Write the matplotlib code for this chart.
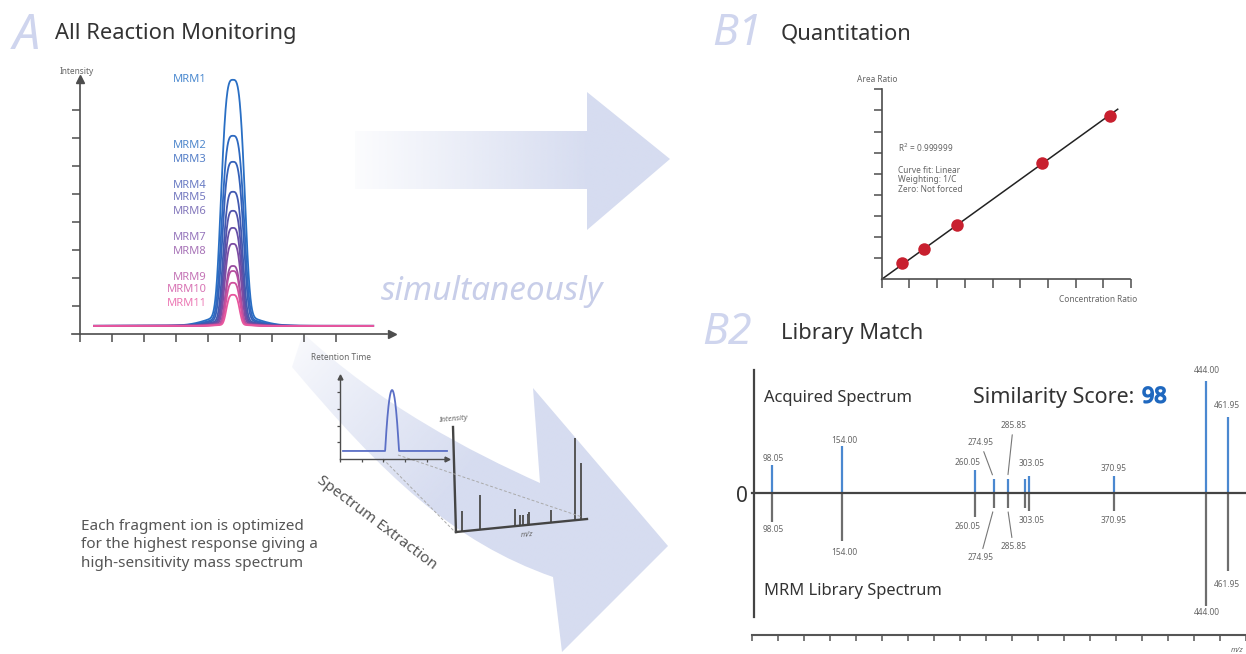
import numpy as np
import matplotlib
matplotlib.use('Agg')
import matplotlib.pyplot as plt
import matplotlib.patheffects as pe
from matplotlib.patches import PathPatch
from matplotlib.path import Path
from matplotlib.transforms import Affine2D

plt.rcParams['font.family'] = ['Noto Sans', 'DejaVu Sans']

# ---- data ----
# A: overlaid MRM chromatograms (intensity above baseline, peak width at half height)
mrm_names = ['MRM1', 'MRM2', 'MRM3', 'MRM4', 'MRM5', 'MRM6',
             'MRM7', 'MRM8', 'MRM9', 'MRM10', 'MRM11']
mrm_heights = [8.79, 6.79, 5.86, 4.79, 4.11, 3.50, 2.93, 2.14, 1.96, 1.54, 1.11]
mrm_fwhm = [0.75, 0.72, 0.68, 0.62, 0.58, 0.55, 0.52, 0.48, 0.47, 0.45, 0.42]
mrm_colors = ['#2a6fc4', '#2e69c0', '#3461b9', '#4159b0', '#5153aa', '#664fa6',
              '#7c4ca3', '#984c9f', '#b54e9e', '#d0519d', '#e8569e']
mrm_label_colors = ['#4c8ad0', '#5088cc', '#5680c8', '#6a7cc4', '#7479c0', '#8478bc',
                    '#9676bc', '#a874b8', '#c474b6', '#d874b4', '#ec78b4']
peak_rt = 4.78
baseline = 0.29
rt_range = (0.44, 9.16)

# extracted chromatogram (small inset)
xic_peak_rt = 2.40
xic_half_width = 0.32
xic_height = 3.65
xic_baseline = 0.48
xic_range = (0.14, 4.93)

# B1: calibration curve
conc_ratio = [0.72, 1.51, 2.71, 5.80, 8.25]
area_ratio = [0.76, 1.42, 2.58, 5.50, 7.76]
fit_x = [0, 8.52]
fit_y = [0, 8.06]

# B2: acquired vs library spectrum
mz = [98.05, 154.00, 260.05, 274.95, 285.85, 300.05, 303.05, 370.95, 444.00, 461.95]
mz_labels = ['98.05', '154.00', '260.05', '274.95', '285.85', '', '303.05',
             '370.95', '444.00', '461.95']
acquired = [25, 42, 21, 13, 13, 13, 15.5, 15.5, 100, 68.5]
library = [25.5, 43, 21, 13, 13, 13, 15.5, 15.5, 100.5, 69]

# ---- figure in pixel space ----
W, H = 1246, 654
fig = plt.figure(figsize=(W / 100, H / 100), dpi=100)
bg = fig.add_axes([0, 0, 1, 1])
bg.set_xlim(0, W)
bg.set_ylim(H, 0)
bg.axis('off')

AX = '#4d4d4d'
LAV = '#d6dcf0'
px = lambda v: v * 0.72  # pixels -> points


def place(x0, y0, x1, y1):
    a = fig.add_axes([x0 / W, 1 - y1 / H, (x1 - x0) / W, (y1 - y0) / H])
    a.patch.set_alpha(0)
    return a


def gradient_fill(path, extent, alpha):
    r, g, b = matplotlib.colors.to_rgb(LAV)
    img = np.zeros(alpha.shape + (4,))
    img[..., 0], img[..., 1], img[..., 2] = r, g, b
    img[..., 3] = alpha
    im = bg.imshow(img, extent=extent, aspect='auto', interpolation='bilinear', zorder=0)
    patch = PathPatch(path, transform=bg.transData, facecolor='none', edgecolor='none')
    bg.add_patch(patch)
    im.set_clip_path(patch)


# straight arrow (A -> B1)
xs = np.linspace(350, 675, 300)
al = 0.08 + 0.92 * np.clip((xs - 355) / (590 - 355), 0, 1)
arrow1 = Path([(355, 131), (587, 131), (587, 92), (670, 159), (587, 230),
               (587, 189), (355, 189), (355, 131)])
gradient_fill(arrow1, (350, 675, 235, 85), np.tile(al, (2, 1)))

# curved arrow (A -> B2)
verts = [(303, 333), (380, 405), (470, 451.5), (540, 483),
         (533, 388), (668, 546), (562, 652), (553, 577),
         (453, 542), (383, 475), (292, 367), (303, 333)]
codes = [Path.MOVETO, Path.CURVE4, Path.CURVE4, Path.CURVE4,
         Path.LINETO, Path.LINETO, Path.LINETO, Path.LINETO,
         Path.CURVE4, Path.CURVE4, Path.CURVE4, Path.CLOSEPOLY]
arrow2 = Path(verts, codes)
gx, gy = np.meshgrid(np.linspace(285, 675, 300), np.linspace(325, 655, 300))
s = (gx - 292) * 0.75 + (gy - 340) * 0.66
gradient_fill(arrow2, (285, 675, 655, 325), 0.12 + 0.88 * np.clip(s / 220, 0, 1) ** 0.8)

# ---- panel titles ----
big = dict(fontsize=31, style='italic', color='#cfd5ee', va='center', ha='left')
ttl = dict(fontsize=15.8, color='#333333', va='center', ha='left')
bg.text(13, 36, 'A', **dict(big, fontsize=35))
bg.text(55, 33, 'All Reaction Monitoring', **ttl)
bg.text(712, 34, 'B1', **big)
bg.text(781, 34, 'Quantitation', **ttl)
bg.text(702, 333, 'B2', **big)
bg.text(781, 333, 'Library Match', **ttl)

small = dict(fontsize=6, color='#666666', ha='center', va='center')

# ---- A: MRM chromatograms ----
ax = place(60, 70, 400, 345)
ax.set_xlim(-0.625, 10)
ax.set_ylim(-0.393, 9.43)
rt = np.linspace(rt_range[0], rt_range[1], 1200)
for h, w, c in zip(mrm_heights, mrm_fwhm, mrm_colors):
    d = np.abs(rt - peak_rt)
    core = np.exp(-np.log(2) * (2 * d / w) ** 3.4)
    tail = np.exp(-0.5 * (d / (0.9 * w)) ** 2)
    ax.plot(rt, baseline + h * (0.95 * core + 0.05 * tail), color=c, lw=1.3)
for sp in ['top', 'right']:
    ax.spines[sp].set_visible(False)
ax.spines['left'].set_position(('data', 0))
ax.spines['bottom'].set_position(('data', 0))
ax.spines['left'].set_bounds(0, 9.0)
ax.spines['bottom'].set_bounds(-0.25, 9.6)
for sp in ['left', 'bottom']:
    ax.spines[sp].set_color(AX)
    ax.spines[sp].set_linewidth(1.2)
ax.set_xticks(range(0, 9))
ax.set_yticks(range(1, 9))
ax.tick_params(direction='out', length=px(8), width=1.1, color=AX,
               labelleft=False, labelbottom=False)
ax.plot(0, 9.12, marker='^', ms=6, color=AX, clip_on=False)
ax.plot(9.75, 0, marker='>', ms=6, color=AX, clip_on=False)

label_y = [80, 146, 159, 185, 198, 211, 238, 251, 277, 290, 303]
for name, ly, c in zip(mrm_names, label_y, mrm_label_colors):
    bg.text(207, ly, name, fontsize=8, color=c, ha='right', va='center')
bg.text(77, 71, 'Intensity', **small)
bg.text(341, 358, 'Retention Time', **small)

bg.text(492, 291, 'simultaneously', fontsize=24, style='italic', color='#c8cee9',
        ha='center', va='center')

# ---- extracted chromatogram inset ----
ax2 = place(330, 370, 455, 470)
ax2.set_xlim(-0.46, 5.3)
ax2.set_ylim(-0.66, 5.33)
t = np.linspace(xic_range[0], xic_range[1], 600)
bump = np.clip(1 - ((t - xic_peak_rt) / xic_half_width) ** 2, 0, None)
ax2.plot(t, xic_baseline + xic_height * bump, color='#5b6fc6', lw=1.3)
for sp in ['top', 'right']:
    ax2.spines[sp].set_visible(False)
ax2.spines['left'].set_position(('data', 0))
ax2.spines['bottom'].set_position(('data', 0))
ax2.spines['left'].set_bounds(0, 4.75)
ax2.spines['bottom'].set_bounds(0, 4.8)
for sp in ['left', 'bottom']:
    ax2.spines[sp].set_color(AX)
    ax2.spines[sp].set_linewidth(1.0)
ax2.set_xticks(range(0, 5))
ax2.set_yticks(range(1, 5))
ax2.tick_params(direction='out', length=px(3), width=0.9, color=AX,
                labelleft=False, labelbottom=False)
ax2.plot(0, 4.9, marker='^', ms=3.5, color=AX, clip_on=False)
ax2.plot(4.93, 0, marker='>', ms=3.5, color=AX, clip_on=False)

# ---- extracted spectrum, drawn in perspective ----
skew = Affine2D.from_values(0.3275, -0.03249, 0, -0.815, 429.59, 534.62) + bg.transData
bg.vlines(mz, 0, library, colors='#555555', lw=1.4, transform=skew)
bg.plot([80.6, 480.6], [0, 0], color='#444444', lw=1.7, transform=skew)
bg.plot([80.6, 71.5], [0, 129.2], color='#444444', lw=1.7, transform=skew)
bg.plot([383, 455], [459, 532], ls=(0, (3, 2)), color='#aaaaaa', lw=0.7)
bg.plot([398, 582], [455, 517], ls=(0, (3, 2)), color='#aaaaaa', lw=0.7)
bg.text(453, 419, 'Intensity', fontsize=5.5, style='italic', color='#666666',
        ha='center', va='center', rotation=5)
bg.text(527, 535, 'm/z', fontsize=5.5, style='italic', color='#666666',
        ha='center', va='center', rotation=5)

bg.text(377, 523, 'Spectrum Extraction', fontsize=11, color='#555555',
        ha='center', va='center', rotation=-37, rotation_mode='anchor')

bg.text(81, 545, 'Each fragment ion is optimized\nfor the highest response giving a\n'
        'high-sensitivity mass spectrum', fontsize=11, color='#555555',
        ha='left', va='center', linespacing=1.35)

# ---- B1: calibration ----
ax3 = place(868, 76, 1140, 292)
ax3.set_xlim(-0.495, 9.325)
ax3.set_ylim(-0.602, 9.635)
ax3.plot(fit_x, fit_y, color='#222222', lw=1.1)
ax3.plot(conc_ratio, area_ratio, 'o', ms=9, color='#c8202f', mec='none')
for sp in ['top', 'right']:
    ax3.spines[sp].set_visible(False)
ax3.spines['left'].set_position(('data', 0))
ax3.spines['bottom'].set_position(('data', 0))
ax3.spines['left'].set_bounds(0, 9)
ax3.spines['bottom'].set_bounds(0, 8.96)
for sp in ['left', 'bottom']:
    ax3.spines[sp].set_color(AX)
    ax3.spines[sp].set_linewidth(1.2)
ax3.set_xticks(range(0, 10))
ax3.set_yticks(range(1, 10))
ax3.tick_params(direction='out', length=px(8.5), width=1.1, color=AX,
                labelleft=False, labelbottom=False)
bg.text(877, 79, 'Area Ratio', **small)
bg.text(1098, 299, 'Concentration Ratio', **small)
bg.text(898, 148, 'R$^2$ = 0.999999', fontsize=6, color='#666666', ha='left', va='center')
bg.text(898, 180, 'Curve fit: Linear\nWeighting: 1/C\nZero: Not forced', fontsize=6,
        color='#666666', ha='left', va='center', linespacing=1.1)

# ---- B2: library match ----
ax4 = place(745, 362, 1246, 622)
ax4.set_xlim(76.26, 476.2)
ax4.set_ylim(-114.9, 117.2)
ax4.axis('off')
ax4.vlines(mz, 0, acquired, colors='#4a88d0', lw=1.6)
ax4.vlines(mz, 0, [-v for v in library], colors='#6e6e6e', lw=1.6)
ax4.plot([81.8, 476.2], [0, 0], color='#444444', lw=1.6, clip_on=False)
ax4.plot([83.44, 83.44], [-110.4, 110], color='#444444', lw=1.6, clip_on=False)

up_off = [(1, 7), (1.6, 6), (-8, 7.3), (-13.6, 36.3), (5.7, 53.3), None,
          (3, 12), (-0.4, 7.3), (1, 11), (-1.6, 11)]
low_off = [(1, 8), (1.6, 11), (-8, 10), (-13.6, 50), (5.7, 39), None,
           (3, 10), (-0.4, 10), (1, 7), (-1.6, 14)]
leaders = {3, 4}
for i, (m, lab) in enumerate(zip(mz, mz_labels)):
    if not lab:
        continue
    for val, off, sign in [(acquired[i], up_off[i], 1), (library[i], low_off[i], -1)]:
        ap = None
        if i in leaders:
            ap = dict(arrowstyle='-', color='#777777', lw=0.8, shrinkA=1.5, shrinkB=3)
        ax4.annotate(lab, xy=(m, sign * val), xytext=(px(off[0]), sign * px(off[1])),
                     textcoords='offset points', fontsize=6, color='#666666',
                     ha='center', va='center', arrowprops=ap, annotation_clip=False)

bg.text(764, 398, 'Acquired Spectrum', fontsize=11.9, color='#333333', ha='left', va='center')
bg.text(764, 591, 'MRM Library Spectrum', fontsize=11.9, color='#333333', ha='left', va='center')
bg.text(973, 397, 'Similarity Score:', fontsize=15.5, color='#333333', ha='left', va='center')
bg.text(1142, 397, '98', fontsize=15.5, color='#1f68bf', fontweight='bold', ha='left',
        va='center', path_effects=[pe.withStroke(linewidth=1.2, foreground='#1f68bf')])
bg.text(742, 497, '0', fontsize=15, color='#333333', ha='center', va='center')

ax5 = place(751.7, 635.3, 1246, 650)
ax5.set_xlim(0, 19.01)
ax5.set_ylim(0, 1)
for sp in ['bottom', 'left', 'right']:
    ax5.spines[sp].set_visible(False)
ax5.spines['top'].set_color('#555555')
ax5.spines['top'].set_linewidth(1.5)
ax5.xaxis.tick_top()
ax5.set_xticks(range(0, 20))
ax5.set_yticks([])
ax5.tick_params(axis='x', direction='in', length=px(6), width=1.1, color='#555555',
                labeltop=False, labelbottom=False)
bg.text(1237, 651, 'm/z', fontsize=5.5, style='italic', color='#666666', ha='center', va='center')

bg.set_xlim(0, W)
bg.set_ylim(H, 0)
fig.savefig('out.png', dpi=100)
